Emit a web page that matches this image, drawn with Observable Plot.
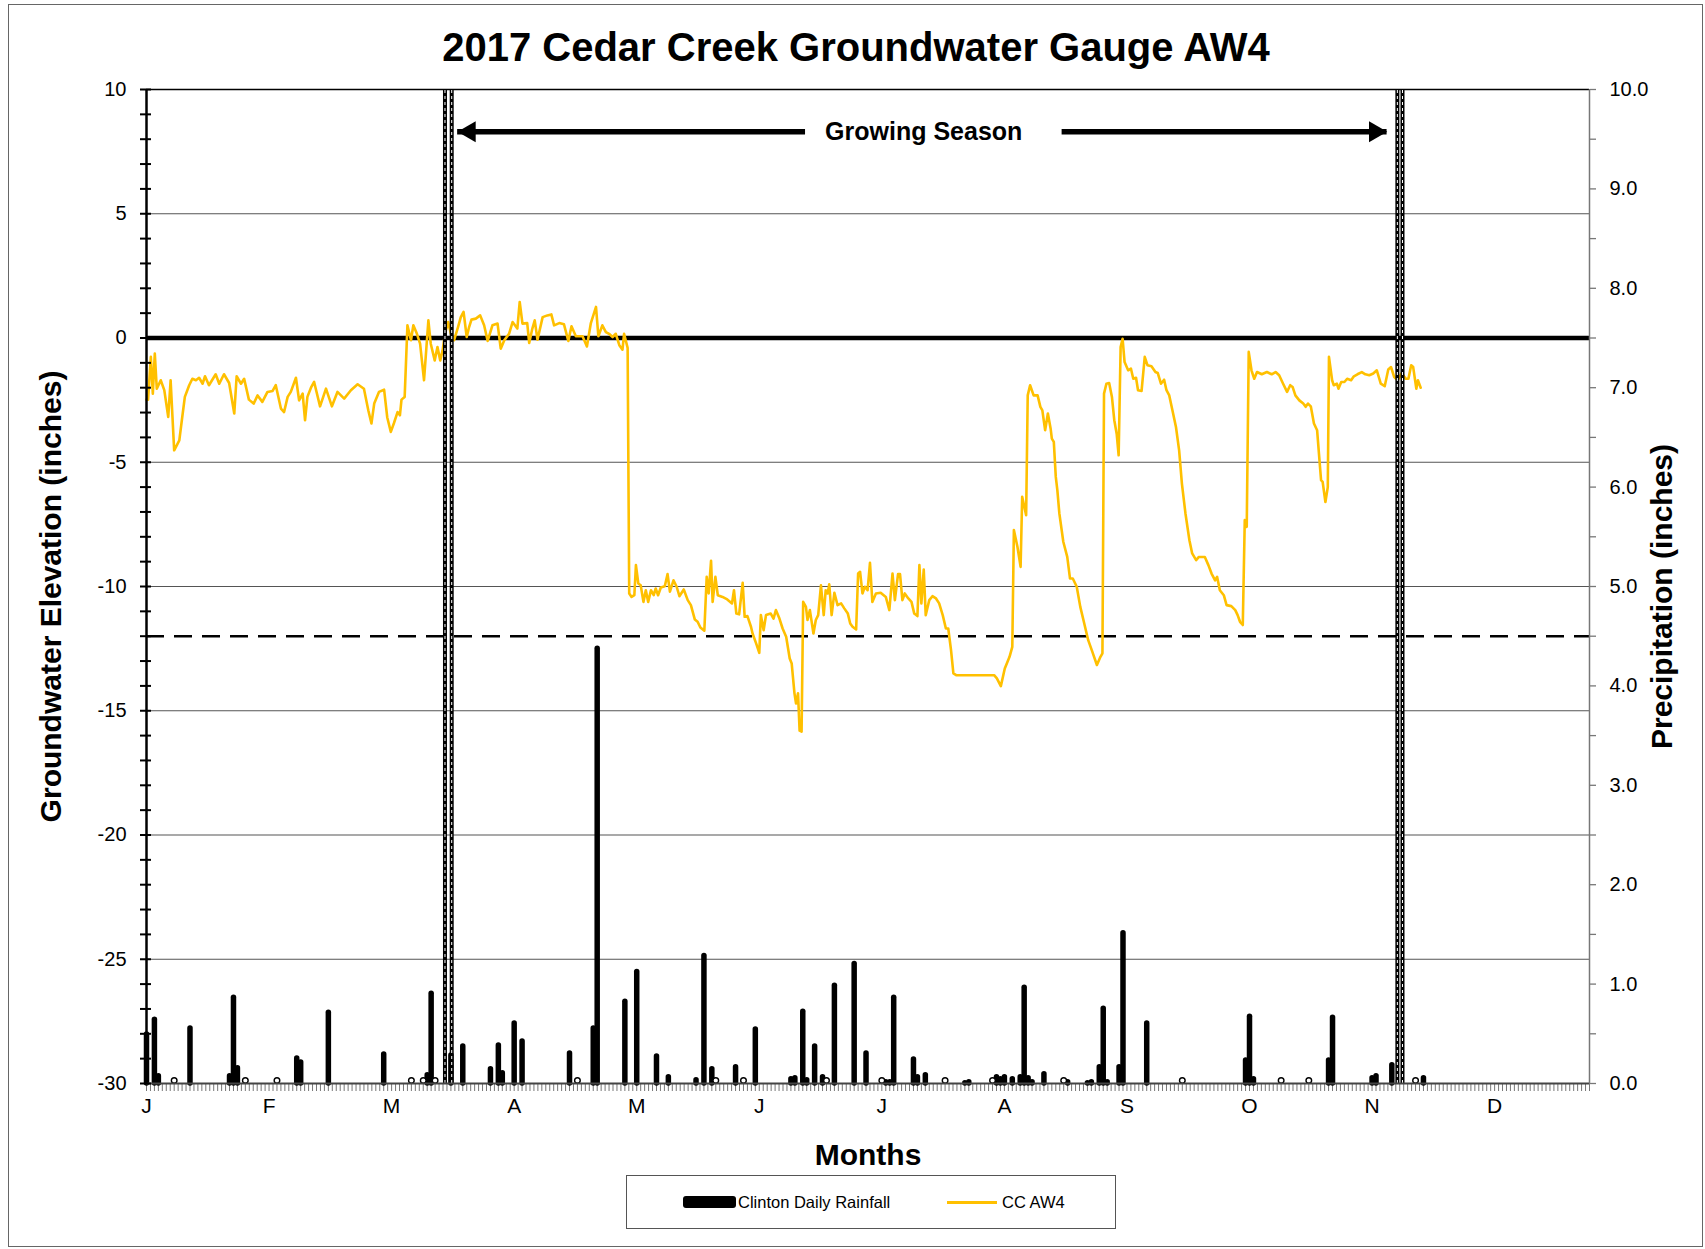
<!DOCTYPE html>
<html>
<head>
<meta charset="utf-8">
<script src="https://cdn.jsdelivr.net/npm/d3@7"></script>
<script src="https://cdn.jsdelivr.net/npm/@observablehq/plot@0.6"></script>
<style>
html, body { margin: 0; padding: 0; background: #fff; }
#wrap { position: relative; width: 1705px; height: 1249px; overflow: hidden; font-family: 'Liberation Sans', Arial, sans-serif; }
#border { position: absolute; left: 8px; top: 4px; width: 1695px; height: 1243px; border: 1.5px solid #666; box-sizing: border-box; }
#chart { position: absolute; left: 0; top: 0; }
#legend { position: absolute; left: 626px; top: 1175px; width: 490px; height: 54px; border: 1.5px solid #555; box-sizing: border-box; background: #fff; font-size: 16.5px; color: #000; }
#legend .sw1 { position: absolute; left: 56px; top: 20px; width: 53px; height: 12px; background: #000; border-radius: 3px; }
#legend .t1 { position: absolute; left: 111px; top: 17px; line-height: 18px; white-space: nowrap; }
#legend .sw2 { position: absolute; left: 320px; top: 24.5px; width: 50px; height: 3px; background: #FFC000; }
#legend .t2 { position: absolute; left: 375px; top: 17px; line-height: 18px; white-space: nowrap; }
</style>
</head>
<body>
<div id="wrap">
  <div id="border"></div>
  <div id="chart"></div>
  <div id="legend">
    <span class="sw1"></span><span class="t1" id="lg1"></span>
    <span class="sw2"></span><span class="t2" id="lg2"></span>
  </div>
</div>
<script>
// ---------------- DATA ----------------
const chartTitle = "2017 Cedar Creek Groundwater Gauge AW4";
const leftTitle = "Groundwater Elevation (inches)";
const rightTitle = "Precipitation (inches)";
const bottomTitle = "Months";
const seriesNames = ["Clinton Daily Rainfall", "CC AW4"];

// month labels (Excel-style: one label every 31 days from Jan 1)
const monthLabels = ["J","F","M","A","M","J","J","A","S","O","N","D"];
const monthDays = [0,31,62,93,124,155,186,217,248,279,310,341];

// left axis labels (groundwater, inches) and right axis labels (precipitation, inches)
const gwTicks = [10,5,0,-5,-10,-15,-20,-25,-30];
const precipTickLabels = ["0.0","1.0","2.0","3.0","4.0","5.0","6.0","7.0","8.0","9.0","10.0"];

// reference lines
const gridLevels = [5,-5,-10,-15,-20,-25];
const groundLevel = [0];
const thresholdLevel = [-12];

// growing season markers (day of year) and annotation
const seasonLineDays = [75.5, 77.2, 316.4, 317.7];
const seasonLabel = "Growing Season";
const seasonArrowLevel = 8.3;
const seasonArrowLeft = [78.7, 166.7];
const seasonArrowRight = [231.6, 313.8];
const seasonLabelDay = 196.6;

// Clinton daily rainfall (day of year, inches)
const rainDays =   [0,2,3,11,21,22,23,38,39,46,60,71,72,77,80,87,89,90,93,95,107,113,114,121,124,129,132,
                    139,141,143,149,154,163,164,166,167,169,171,174,179,182,187,188,189,194,195,197,207,208,
                    215,216,217,219,221,222,223,224,227,233,238,239,241,242,243,246,247,253,
                    278,279,280,299,300,310,311,315,323];
const rainInches = [0.52,0.67,0.10,0.58,0.10,0.89,0.18,0.28,0.24,0.74,0.32,0.11,0.93,0.31,0.40,0.17,0.41,0.13,0.63,0.45,0.33,0.58,4.40,0.85,1.15,0.30,0.09,
                    0.06,1.31,0.17,0.19,0.57,0.07,0.08,0.75,0.06,0.40,0.09,1.01,1.23,0.33,0.04,0.04,0.89,0.27,0.09,0.11,0.03,0.04,
                    0.09,0.07,0.09,0.07,0.09,0.99,0.08,0.04,0.12,0.04,0.03,0.04,0.19,0.78,0.04,0.19,1.54,0.63,
                    0.26,0.70,0.07,0.26,0.69,0.08,0.10,0.21,0.08];
// trace rainfall days (drawn as tiny rings)
const traceDays = [7,25,33,67,70,73,109,144,151,172,186,202,214,232,262,287,294,321];

// CC AW4 groundwater level (day of year, inches)
const gwDays = [
 0,0.4,1.1,1.6,2.1,2.6,3.6,4.5,5.5,6.1,7.0,8.3,9.1,9.7,10.8,11.6,12.5,13.3,14.2,14.8,15.8,17.5,18.4,19.6,20.9,22.2,22.8,23.9,24.7,25.9,
 27.1,28.1,29.3,30.6,31.9,32.7,34.0,34.8,35.7,36.5,37.8,38.6,39.5,40.1,40.7,41.6,42.4,43.9,45.4,46.9,48.3,50.0,51.7,53.4,55.0,56.1,56.9,57.6,58.8,60.1,
 60.9,61.8,62.6,63.5,64.1,64.5,65.3,66.0,66.9,67.5,68.4,69.2,70.2,71.3,71.9,72.9,73.6,74.3,74.9,75.5,76.3,77.0,77.8,78.8,79.5,80.2,81.0,81.6,82.2,83.3,
 84.4,85.4,86.3,87.5,88.8,89.6,90.5,91.7,92.6,93.8,94.4,95.1,96.3,96.8,97.6,98.2,98.9,100.2,101.4,102.4,103.1,104.4,105.6,106.7,107.5,108.6,110.3,111.4,112.4,113.7,
 114.3,115.3,116.2,117.0,117.9,118.7,119.6,120.4,120.8,121.7,
 122.1,122.7,123.4,123.8,124.4,125.0,125.7,126.3,126.9,127.6,128.3,128.8,129.4,130.1,131.1,131.8,132.4,133.3,134.1,134.8,135.9,136.9,137.7,138.7,139.4,140.1,141.1,141.7,142.2,142.8,
 143.2,143.9,144.5,145.7,146.9,148.1,148.6,149.2,149.9,150.8,151.3,152.0,152.9,153.3,154.2,155.0,155.4,156.1,156.7,157.9,158.6,159.2,160.1,160.9,161.8,162.7,163.2,163.9,164.3,164.8,
 165.2,165.7,166.1,166.8,167.2,167.8,168.7,169.3,169.9,170.6,171.3,171.8,172.3,172.7,173.3,174.0,174.8,175.7,176.5,177.4,178.0,178.6,179.5,180.0,180.5,181.1,181.7,182.4,183.0,183.6,
 184.5,185.7,187.0,187.9,188.7,189.3,190.1,190.6,191.2,191.8,192.7,193.5,194.2,195.0,195.5,196.0,196.6,197.1,198.0,198.8,199.7,200.5,201.4,202.2,202.8,203.5,204.1,204.8,214.4,215.1,
 216.1,217.1,218.3,219.0,219.4,220.3,221.1,221.5,222.5,222.9,223.5,224.4,225.4,226.1,226.6,227.3,228.0,228.7,229.0,229.5,230.0,230.4,230.9,231.9,232.9,233.6,234.3,235.3,236.2,237.2,
 238.2,239.1,240.4,241.3,241.8,242.2,242.8,243.5,244.2,244.8,245.4,245.9,246.4,246.9,247.4,248.3,249.0,249.6,250.3,250.8,251.7,252.5,253.2,254.2,255.2,255.8,256.6,257.4,258.0,258.7,
 259.5,260.4,261.2,261.9,262.8,263.8,264.5,265.5,266.2,267.7,268.6,269.4,270.3,270.8,271.5,272.5,273.2,274.4,275.4,276.0,276.6,277.3,277.8,278.3,278.8,279.5,280.2,280.9,282.1,283.4,
 284.6,285.6,286.5,287.5,288.5,289.3,289.9,290.6,291.6,292.6,293.2,293.8,294.5,295.3,296.1,296.5,297.1,297.5,298.2,298.8,299.1,299.9,300.3,301.1,301.5,302.2,303.0,303.7,304.7,305.4,
 306.3,307.4,308.3,309.3,310.3,311.2,312.2,313.2,314.1,314.8,315.6,316.5,317.5,318.5,319.2,319.9,320.4,321.2,321.6,322.3
];
const gwLevel = [
 -2.48,-2.48,-0.76,-2.24,-0.63,-2.04,-1.70,-2.10,-3.18,-1.70,-4.52,-4.12,-3.11,-2.37,-1.90,-1.64,-1.70,-1.60,-1.84,-1.54,-1.90,-1.46,-1.84,-1.46,-1.81,-3.04,-1.54,-1.84,-1.64,-2.48,
 -2.64,-2.31,-2.57,-2.17,-2.13,-1.90,-2.84,-2.98,-2.37,-2.17,-1.60,-2.51,-2.24,-3.31,-2.37,-2.00,-1.77,-2.75,-2.04,-2.75,-2.17,-2.44,-2.10,-1.86,-2.04,-2.91,-3.44,-2.64,-2.17,-2.08,
 -3.20,-3.78,-3.42,-2.98,-3.11,-2.48,-2.37,0.51,-0.09,0.51,0.17,-0.23,-1.70,0.71,-0.23,-0.90,-0.36,-0.90,-0.50,0.17,0.64,0.17,-0.09,0.44,0.84,1.05,0.04,0.44,0.74,0.78,
 0.91,0.51,-0.12,0.51,0.58,-0.43,-0.09,0.17,0.64,0.38,1.45,0.58,0.60,-0.20,0.38,0.71,-0.07,0.84,0.91,0.95,0.51,0.60,0.55,-0.12,0.47,0.07,0.07,-0.34,0.60,1.25,
 0.07,0.51,0.24,0.17,0.04,0.17,-0.29,-0.47,0.17,-0.40,
 -10.28,-10.42,-10.35,-9.14,-9.88,-9.95,-10.62,-10.15,-10.62,-10.15,-10.35,-10.08,-10.35,-10.04,-9.99,-9.50,-10.21,-9.75,-10.01,-10.39,-10.12,-10.55,-10.75,-11.33,-11.42,-11.65,-11.78,-9.61,-10.28,-8.97,
 -10.62,-9.61,-10.35,-10.42,-10.52,-10.68,-10.15,-11.09,-11.12,-9.85,-11.22,-11.19,-11.62,-11.89,-12.29,-12.67,-11.15,-11.76,-11.15,-11.09,-11.29,-10.95,-11.29,-11.69,-12.02,-12.90,-13.10,-14.30,-14.71,-14.30,
 -15.80,-15.84,-10.62,-10.82,-11.35,-10.95,-11.89,-11.35,-11.15,-9.95,-11.15,-10.15,-10.28,-9.91,-11.15,-10.25,-10.75,-10.68,-10.88,-11.09,-11.49,-11.62,-11.73,-9.48,-9.41,-10.28,-10.01,-10.15,-9.05,-10.62,
 -10.28,-10.25,-10.42,-10.95,-9.48,-10.55,-9.50,-9.50,-10.55,-10.28,-10.48,-10.62,-11.09,-11.19,-9.14,-10.68,-9.32,-11.15,-10.55,-10.39,-10.48,-10.68,-11.15,-11.69,-11.69,-12.56,-13.50,-13.57,-13.57,-13.70,
 -14.01,-13.30,-12.83,-12.43,-7.73,-8.40,-9.21,-6.39,-7.13,-2.31,-1.90,-2.31,-2.31,-2.77,-2.91,-3.71,-3.04,-3.65,-4.05,-4.18,-5.59,-6.13,-7.06,-8.20,-8.81,-9.68,-9.68,-10.01,-10.82,-11.49,
 -12.16,-12.56,-13.16,-12.83,-12.69,-2.24,-1.84,-1.81,-2.37,-3.31,-3.85,-4.72,-0.36,-0.03,-0.97,-1.30,-1.23,-1.64,-1.60,-2.10,-2.13,-0.76,-1.10,-1.14,-1.37,-1.41,-1.84,-1.68,-2.10,-2.31,
 -2.91,-3.58,-4.52,-5.86,-7.06,-8.14,-8.67,-8.94,-8.81,-8.81,-9.14,-9.48,-9.75,-9.61,-10.15,-10.35,-10.75,-10.79,-10.95,-11.15,-11.42,-11.55,-7.33,-7.60,-0.56,-1.30,-1.64,-1.37,-1.46,-1.37,
 -1.46,-1.37,-1.50,-1.84,-2.17,-1.90,-1.97,-2.31,-2.51,-2.64,-2.77,-2.64,-2.75,-3.44,-3.71,-4.52,-5.72,-5.79,-6.60,-6.00,-0.76,-1.70,-1.90,-1.84,-2.04,-1.77,-1.77,-1.64,-1.70,-1.54,
 -1.46,-1.37,-1.46,-1.50,-1.43,-1.30,-1.84,-1.94,-1.27,-1.17,-1.57,-1.70,-1.41,-1.64,-1.64,-1.10,-1.17,-2.04,-1.70,-2.00
];

// ---------------- CHART ----------------
// precipitation (0..10 in) drawn on the groundwater scale (-30..10)
const P0 = -30, PK = 4;
const toGw = p => P0 + p * PK;

const rain = rainDays.map((d, i) => ({day: d, inches: rainInches[i]}));
const gw = gwDays.map((d, i) => ({day: d, level: gwLevel[i]}));

const precipTickPos = precipTickLabels.map(s => toGw(+s));
const precipMinorPos = precipTickLabels.slice(0, -1).map(s => toGw(+s + 0.5));

const BLACK = "#000";
const GOLD = "#FFC000";

const chart = Plot.plot({
  width: 1705,
  height: 1249,
  marginLeft: 146,
  marginRight: 116,
  marginTop: 89,
  marginBottom: 166,
  style: {fontFamily: "'Liberation Sans', Arial, sans-serif", background: "transparent", color: "#000"},
  x: {domain: [0, 365], axis: null, label: null},
  y: {domain: [-30, 10], axis: null, label: null},
  marks: [
    // grid and reference lines
    Plot.ruleY(gridLevels, {stroke: "#555", strokeWidth: 1.2}),
    Plot.ruleY([10], {stroke: BLACK, strokeWidth: 1.5}),
    Plot.ruleY(thresholdLevel, {stroke: BLACK, strokeWidth: 2.6, strokeDasharray: "18,10"}),

    // day comb under the baseline
    Plot.axisX({anchor: "bottom", label: null, ticks: d3.range(0, 366), tickSize: 8, tickFormat: () => "", stroke: "#777", strokeWidth: 1}),

    // rainfall bars
    Plot.ruleX(rain, {x: "day", y1: P0, y2: d => toGw(d.inches) - 0.11, stroke: BLACK, strokeWidth: 5.5, strokeLinecap: "round"}),
    Plot.dot(traceDays, {x: d => d, y: P0, dy: -3, r: 2.8, stroke: BLACK, strokeWidth: 1.4, fill: "#fff"}),

    // ground surface line
    Plot.ruleY(groundLevel, {stroke: BLACK, strokeWidth: 4.5}),

    // groundwater line
    Plot.line(gw, {x: "day", y: "level", stroke: GOLD, strokeWidth: 2.6, strokeLinejoin: "round"}),

    // growing season double lines
    Plot.ruleX(seasonLineDays, {y1: -30, y2: 10, stroke: BLACK, strokeWidth: 4}),
    Plot.ruleX(seasonLineDays, {y1: -30, y2: 10, stroke: "#fff", strokeWidth: 1, strokeDasharray: "3,3"}),

    // baseline and axis lines
    Plot.ruleY([-30], {stroke: "#444", strokeWidth: 2}),
    Plot.ruleX([0], {y1: -30, y2: 10, stroke: BLACK, strokeWidth: 2.5}),
    Plot.ruleX([365], {y1: -30, y2: 10, stroke: "#777", strokeWidth: 1.5}),

    // left axis: crossing ticks every inch, labels every 5
    Plot.axisY({anchor: "left", label: null, ticks: d3.range(-30, 11), tickSize: 6, tickFormat: () => "", stroke: BLACK, strokeWidth: 2}),
    Plot.axisY({anchor: "left", label: null, ticks: d3.range(-30, 11), tickSize: 5, dx: 5, tickFormat: () => "", stroke: BLACK, strokeWidth: 2}),
    Plot.axisY({anchor: "left", label: null, ticks: gwTicks, tickSize: 0, tickPadding: 20, tickFormat: d => String(d), fontSize: 20, fill: BLACK}),

    // right axis: precipitation
    Plot.axisY({anchor: "right", label: null, ticks: precipMinorPos, tickSize: 6, tickFormat: () => "", stroke: "#777", strokeWidth: 1.3}),
    Plot.axisY({anchor: "right", label: null, ticks: precipTickPos, tickSize: 6, tickPadding: 14, stroke: "#777", strokeWidth: 1.3,
      tickFormat: d => precipTickLabels[precipTickPos.indexOf(d)], fontSize: 20, fill: BLACK}),

    // month labels
    Plot.axisX({anchor: "bottom", label: null, ticks: monthDays, tickSize: 0, tickPadding: 15, tickFormat: d => monthLabels[monthDays.indexOf(d)], fontSize: 21, fill: BLACK}),

    // growing season arrow
    Plot.ruleY([{a: seasonArrowLeft[0], b: seasonArrowLeft[1]}, {a: seasonArrowRight[0], b: seasonArrowRight[1]}],
      {y: seasonArrowLevel, x1: "a", x2: "b", stroke: BLACK, strokeWidth: 5.5}),
    Plot.dot([seasonArrowLeft[0]], {x: d => d, y: seasonArrowLevel, symbol: "triangle", rotate: -90, r: 7.8, dx: 12, fill: BLACK, stroke: "none"}),
    Plot.dot([seasonArrowRight[1]], {x: d => d, y: seasonArrowLevel, symbol: "triangle", rotate: 90, r: 7.8, dx: -12, fill: BLACK, stroke: "none"}),
    Plot.text([seasonLabel], {x: seasonLabelDay, y: seasonArrowLevel, fontSize: 25, fontWeight: "bold", fill: BLACK}),

    // titles
    Plot.text([chartTitle], {frameAnchor: "top", lineAnchor: "middle", textAnchor: "middle", dx: -12, dy: -41, fontSize: 40, fontWeight: "bold", fill: BLACK}),
    Plot.text([leftTitle], {frameAnchor: "left", lineAnchor: "middle", textAnchor: "middle", rotate: -90, dx: -95, dy: 10, fontSize: 30, fontWeight: "bold", fill: BLACK}),
    Plot.text([rightTitle], {frameAnchor: "right", lineAnchor: "middle", textAnchor: "middle", rotate: -90, dx: 73, dy: 10, fontSize: 30, fontWeight: "bold", fill: BLACK}),
    Plot.text([bottomTitle], {frameAnchor: "bottom", lineAnchor: "middle", textAnchor: "middle", dy: 72, fontSize: 30, fontWeight: "bold", fill: BLACK})
  ]
});

document.getElementById("chart").appendChild(chart);
document.getElementById("lg1").textContent = seriesNames[0];
document.getElementById("lg2").textContent = seriesNames[1];
</script>
</body>
</html>
